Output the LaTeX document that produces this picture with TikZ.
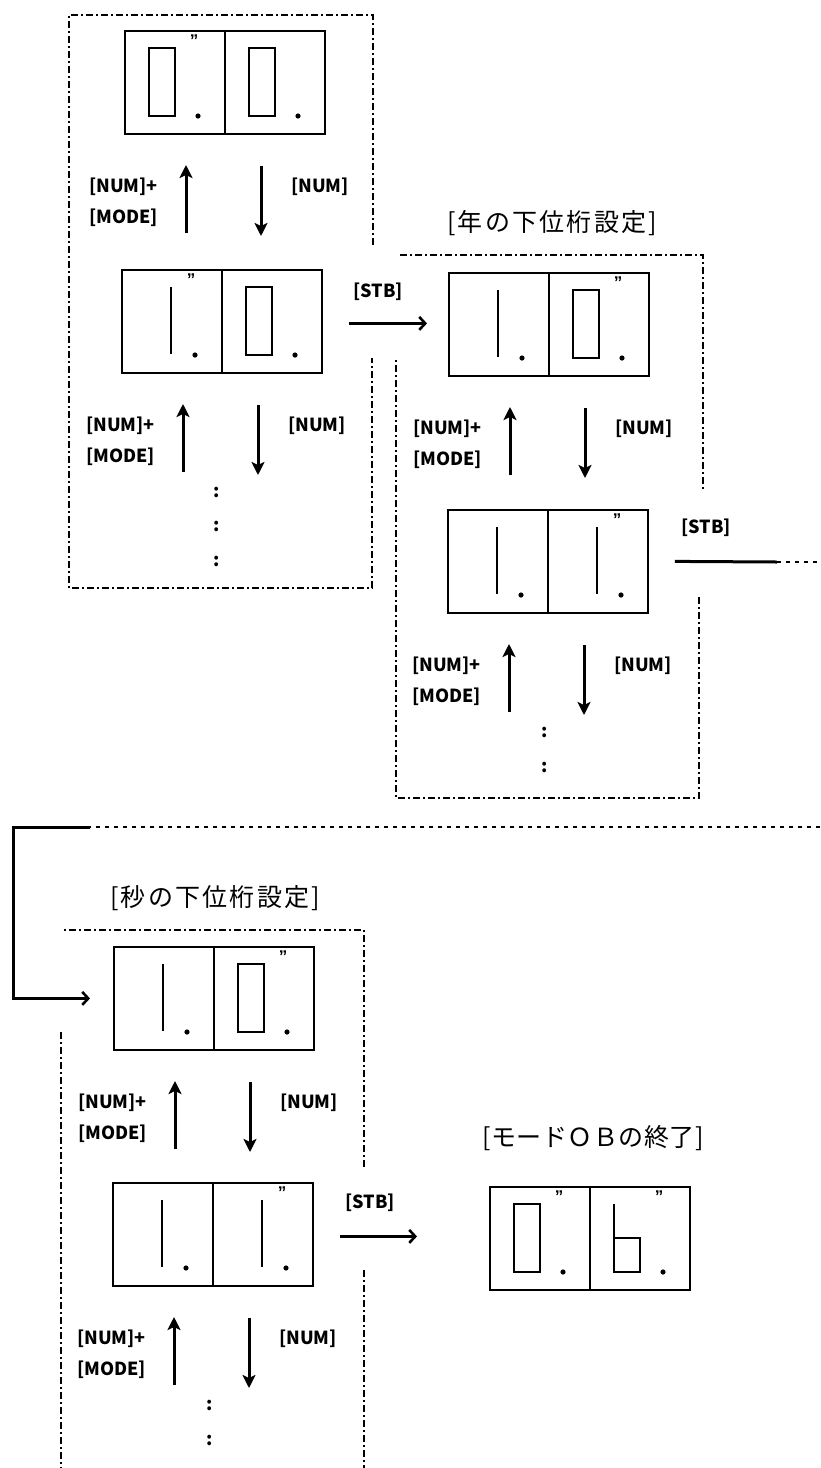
\documentclass[tikz,border=0pt]{standalone}
\usepackage{fontspec}
\usetikzlibrary{arrows.meta,calc}
\newfontfamily\jp{Noto Sans CJK JP}
\newfontfamily\jpA[LetterSpace=9]{Noto Sans CJK JP}
\newfontfamily\jpB[LetterSpace=2]{Noto Sans CJK JP}
\newfontfamily\qfont{Liberation Sans}
\tikzset{
  disp/.style={draw, line width=1.8pt, minimum width=200pt, minimum height=103pt, inner sep=0pt, anchor=north west},
  digit/.style={line width=1.6pt},
  varrow/.style={line width=3pt, -{Stealth[length=13pt,width=13pt,inset=3pt]}},
  harrow/.style={line width=3pt, -{Straight Barb[length=6pt,width=13pt,line width=2.6pt]}},
  conn/.style={line width=3pt},
  dd/.style={line width=1.3pt, dash pattern=on 7pt off 3pt on 2pt off 3pt},
  dotl/.style={line width=2.2pt, dash pattern=on 4pt off 5pt},
  lbl/.style={font=\jp\bfseries\fontsize{18}{20}\selectfont, inner sep=0pt},
  titleA/.style={font=\jpA\fontsize{25}{27}\selectfont, inner sep=0pt},
  titleB/.style={font=\jpB\fontsize{25}{27}\selectfont, inner sep=0pt},
  qmark/.style={font=\qfont\bfseries\fontsize{17}{18}\selectfont, inner sep=0pt, anchor=north},
}
% cell drawing: #1 cell left x, #2 top y, #3 digit code (0 = zero, 1 = one, 2 = six), #4 quote flag
\newcommand\cellfig[4]{%
  \ifcase#3\relax
    \draw[digit] ({#1+25},{#2+18}) rectangle ({#1+51},{#2+86});
  \or
    \draw[digit] ({#1+50},{#2+18}) -- ({#1+50},{#2+85});
  \or
    \draw[digit] ({#1+25},{#2+18}) -- ({#1+25},{#2+52}) -- ({#1+51},{#2+52}) -- ({#1+51},{#2+86}) -- ({#1+25},{#2+86}) -- cycle;
  \fi
  \fill ({#1+74},{#2+86}) circle (2.6pt);
  \ifnum#4=1\relax \node[qmark] at ({#1+70},{#2+5}) {”};\fi
}
% display: name, x, y, digit1, quote1, digit2, quote2
\newcommand\display[7]{%
  \node[disp] (#1) at (#2,#3) {};
  \draw[digit] (#1.north) -- (#1.south);
  \cellfig{#2}{#3}{#4}{#5}
  \cellfig{#2+100}{#3}{#6}{#7}
}
% key arrows under a display: prefix, display left x, display bottom y
\newcommand\keyset[3]{%
  \coordinate (#1ua) at ({#2+62},{#3+100});
  \coordinate (#1ub) at ({#2+62},{#3+32});
  \coordinate (#1da) at ({#2+137},{#3+33});
  \coordinate (#1db) at ({#2+137},{#3+103});
  \draw[varrow] (#1ua) -- (#1ub);
  \draw[varrow] (#1da) -- (#1db);
  \node[lbl, anchor=west] (#1l1) at ({#2-35},{#3+54}) {[NUM]+};
  \node[lbl, anchor=west] (#1l2) at ({#2-35},{#3+85}) {[MODE]};
  \node[lbl, anchor=west] (#1l3) at ({#2+167},{#3+54}) {[NUM]};
}
\begin{document}
\begin{tikzpicture}[x=1pt,y=-1pt]
\useasboundingbox (0,0) rectangle (820,1468);

% dash-dot frames
\draw[dd] (373,245) -- (373,15) -- (69,15) -- (69,588) -- (372,588) -- (372,358);
\draw[dd] (400,255) -- (703,255) -- (703,490);
\draw[dd] (699,597) -- (699,798) -- (396,798) -- (396,358);
\draw[dd] (364,1167) -- (364,930) -- (63,930);
\draw[dd] (364,1270) -- (364,1468);
\draw[dd] (61,1032) -- (61,1468);

% displays
\display{d1}{124}{30}{0}{1}{0}{0}
\display{d2}{121}{269}{1}{1}{0}{0}
\display{d3}{448}{272}{1}{0}{0}{1}
\display{d4}{447}{509}{1}{0}{1}{1}
\display{d5}{113}{946}{1}{0}{0}{1}
\display{d6}{112}{1182}{1}{0}{1}{1}
\display{d7}{489}{1186}{0}{1}{2}{1}

% key arrows and labels
\keyset{k1}{124}{133}
\keyset{k2}{121}{372}
\keyset{k3}{448}{375}
\keyset{k4}{447}{612}
\keyset{k5}{113}{1049}
\keyset{k6}{112}{1285}

% continuation colons
\node[lbl] (c1) at (217,492) {:};
\node[lbl] (c2) at (217,526) {:};
\node[lbl] (c3) at (217,561) {:};
\node[lbl] (c4) at (545,732) {:};
\node[lbl] (c5) at (545,767) {:};
\node[lbl] (c6) at (210,1405) {:};
\node[lbl] (c7) at (210,1440) {:};

% titles
\node[titleA] (t1) at (552,223) {[年の下位桁設定]};
\node[titleA] (t2) at (215,898) {[秒の下位桁設定]};
\node[titleB] (t3) at (593,1138) {[モードＯＢの終了]};

% STB transitions
\node[lbl] (stb1) at (378,292) {[STB]};
\coordinate (s1a) at ($(d2.east)+(26,2)$);
\draw[harrow, shorten >=21pt] (s1a) -- (s1a -| d3.west);

\node[lbl] (stb2) at (706,528) {[STB]};
\coordinate (s2a) at ($(d4.east)+(26,0)$);
\coordinate (e1) at (777,562);
\coordinate (e2) at (820,562);
\draw[conn] (s2a) -- (e1);
\draw[dotl] (e1) -- (e2);
\coordinate (r1) at (820,827);
\coordinate (r2) at (90,827);
\coordinate (r3) at (13,827);
\draw[dotl] (r1) -- (r2);
\draw[harrow, shorten >=23pt] (r2) -- (r3) |- (d5.west);

\node[lbl] (stb3) at (370,1203) {[STB]};
\coordinate (s3a) at ($(d6.east)+(26,2)$);
\draw[harrow, shorten >=72pt] (s3a) -- (s3a -| d7.west);
\end{tikzpicture}
\end{document}
